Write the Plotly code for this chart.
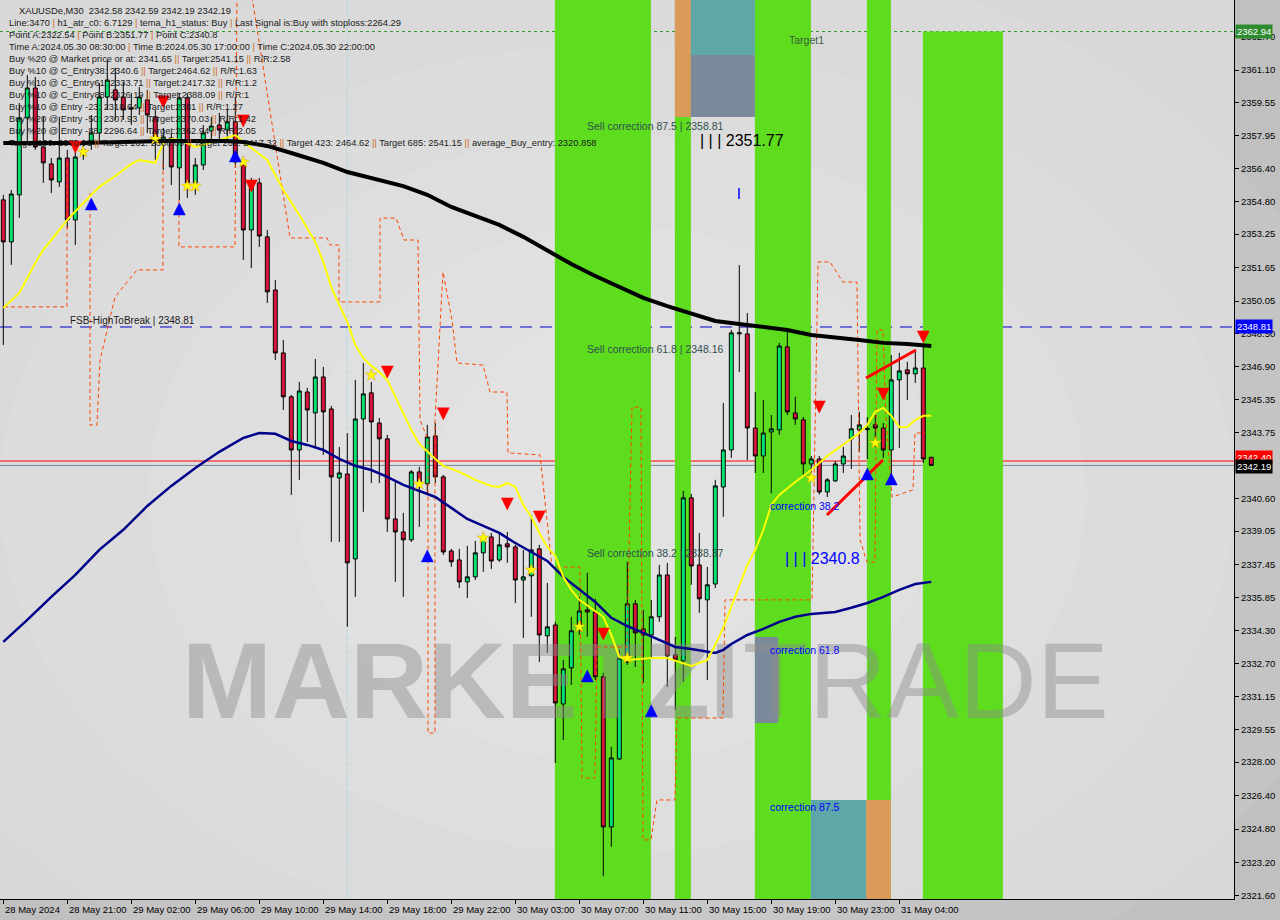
import plotly.graph_objects as go

# ---------------- data ----------------
tick_bars = [0, 8, 16, 24, 32, 40, 48, 56, 64, 72, 80, 88, 96, 104, 112]
tick_labels = ["28 May 2024", "28 May 21:00", "29 May 02:00", "29 May 06:00", "29 May 10:00",
               "29 May 14:00", "29 May 18:00", "29 May 22:00", "30 May 03:00", "30 May 07:00",
               "30 May 11:00", "30 May 15:00", "30 May 19:00", "30 May 23:00", "31 May 04:00"]
price_ticks = [2362.70, 2361.10, 2359.55, 2357.95, 2356.40, 2354.80, 2353.25, 2351.65, 2350.05,
               2348.50, 2346.90, 2345.35, 2343.75, 2340.60, 2339.05, 2337.45, 2335.85, 2334.30,
               2332.70, 2331.15, 2329.55, 2328.00, 2326.40, 2324.80, 2323.20, 2321.60]

opens = [2354.89, 2352.88, 2355.13, 2358.81, 2360.24, 2357.42, 2356.61, 2355.75, 2356.89, 2353.93,
         2357.04, 2357.71, 2358.09, 2359.81, 2360.15, 2359.81, 2359.29, 2359.29, 2359.67, 2358.86,
         2357.61, 2357.85, 2356.42, 2359.76, 2355.70, 2356.56, 2358.19, 2358.47, 2358.23, 2358.62,
         2356.56, 2353.45, 2355.70, 2353.12, 2350.58, 2347.57, 2345.47, 2342.93, 2345.70, 2344.70,
         2346.42, 2344.89, 2341.59, 2341.78, 2337.72, 2344.41, 2345.66, 2344.22, 2343.46, 2339.63,
         2339.01, 2338.63, 2341.88, 2341.31, 2343.60, 2341.64, 2338.10, 2337.67, 2336.62, 2336.86,
         2338.01, 2338.77, 2337.67, 2338.44, 2338.29, 2336.71, 2336.91, 2338.20, 2334.04, 2334.56,
         2330.78, 2332.51, 2334.56, 2335.28, 2335.18, 2332.08, 2324.90, 2328.15, 2332.79, 2335.57,
         2334.37, 2334.08, 2334.95, 2336.95, 2333.13, 2332.84, 2340.64, 2337.43, 2335.76, 2336.52,
         2341.16, 2342.93, 2348.48, 2348.48, 2343.98, 2342.64, 2343.79, 2343.89, 2347.86, 2344.70,
         2344.37, 2342.26, 2342.50, 2340.92, 2341.45, 2342.26, 2343.46, 2343.89, 2343.90, 2344.13,
         2343.98, 2342.93, 2346.28, 2346.76, 2346.57, 2346.85, 2342.58]
highs = [2355.13, 2355.36, 2359.52, 2360.86, 2360.77, 2358.86, 2356.89, 2358.86, 2357.28, 2357.76,
         2357.76, 2358.95, 2360.48, 2361.58, 2361.20, 2360.53, 2360.00, 2360.29, 2360.15, 2359.19,
         2358.33, 2358.09, 2360.00, 2360.00, 2356.89, 2358.47, 2358.86, 2359.05, 2359.19, 2359.81,
         2356.80, 2355.94, 2355.94, 2353.45, 2351.06, 2348.19, 2345.56, 2346.18, 2345.90, 2347.28,
         2346.90, 2345.04, 2343.07, 2343.74, 2346.28, 2347.09, 2346.18, 2344.46, 2343.65, 2341.40,
         2339.92, 2341.97, 2342.12, 2344.13, 2344.22, 2341.74, 2338.20, 2338.20, 2338.34, 2338.58,
         2338.96, 2338.96, 2339.01, 2339.01, 2338.39, 2338.15, 2339.82, 2338.39, 2336.57, 2334.71,
         2332.89, 2334.95, 2335.90, 2337.05, 2335.81, 2332.27, 2328.73, 2333.37, 2337.58, 2335.76,
         2335.28, 2335.76, 2337.43, 2337.53, 2333.99, 2340.97, 2340.83, 2338.96, 2337.34, 2341.50,
         2345.18, 2348.67, 2351.77, 2349.48, 2345.70, 2345.32, 2344.60, 2348.05, 2348.77, 2345.47,
         2344.51, 2342.64, 2342.64, 2341.59, 2342.40, 2343.07, 2344.60, 2344.75, 2344.50, 2344.60,
         2344.22, 2347.47, 2347.57, 2347.14, 2347.62, 2347.95, 2342.59]
lows = [2347.95, 2351.78, 2354.03, 2357.61, 2357.28, 2355.70, 2355.22, 2355.51, 2353.55, 2352.73,
        2356.80, 2357.28, 2357.61, 2359.19, 2358.71, 2358.71, 2358.47, 2358.95, 2358.09, 2356.80,
        2356.32, 2355.60, 2354.89, 2354.98, 2355.13, 2356.32, 2357.76, 2357.76, 2357.76, 2356.42,
        2352.02, 2351.63, 2352.64, 2349.96, 2347.23, 2344.84, 2340.78, 2341.50, 2343.31, 2343.03,
        2342.69, 2338.53, 2338.53, 2334.47, 2335.90, 2339.97, 2341.35, 2341.35, 2339.01, 2336.62,
        2335.90, 2338.53, 2339.25, 2340.87, 2341.35, 2337.91, 2337.34, 2336.33, 2335.85, 2336.71,
        2337.10, 2337.24, 2337.58, 2337.53, 2335.61, 2333.94, 2334.95, 2332.79, 2333.22, 2327.96,
        2329.06, 2331.69, 2334.08, 2333.99, 2331.93, 2322.54, 2323.95, 2328.11, 2332.65, 2332.55,
        2331.79, 2333.03, 2334.71, 2331.60, 2330.50, 2331.84, 2336.48, 2335.14, 2331.93, 2336.33,
        2339.73, 2342.55, 2346.66, 2342.45, 2341.83, 2341.83, 2340.85, 2343.65, 2344.60, 2344.13,
        2341.74, 2341.50, 2340.80, 2340.68, 2341.40, 2341.83, 2342.02, 2342.84, 2342.50, 2343.07,
        2342.55, 2341.64, 2343.03, 2345.32, 2346.13, 2342.31, 2342.19]
closes = [2352.88, 2355.17, 2358.81, 2360.24, 2357.42, 2356.66, 2355.84, 2356.89, 2353.93, 2356.94,
          2357.28, 2358.09, 2359.81, 2360.62, 2359.67, 2359.19, 2359.24, 2359.81, 2358.95, 2357.85,
          2357.90, 2356.46, 2359.76, 2355.70, 2356.56, 2358.09, 2358.42, 2358.23, 2358.62, 2356.70,
          2353.45, 2355.70, 2353.16, 2350.49, 2347.57, 2345.47, 2342.93, 2345.75, 2344.84, 2346.42,
          2344.75, 2341.64, 2341.83, 2337.53, 2344.41, 2345.61, 2344.27, 2343.46, 2339.63, 2339.01,
          2338.63, 2341.88, 2341.35, 2343.55, 2341.64, 2338.05, 2337.58, 2336.62, 2336.86, 2338.01,
          2338.72, 2337.62, 2338.39, 2338.29, 2336.71, 2336.86, 2338.15, 2334.08, 2334.47, 2330.83,
          2332.46, 2334.28, 2335.23, 2335.18, 2332.08, 2324.90, 2328.20, 2332.98, 2335.57, 2334.18,
          2334.08, 2334.95, 2336.95, 2333.08, 2332.89, 2340.64, 2337.38, 2335.81, 2336.48, 2341.21,
          2342.93, 2348.53, 2348.53, 2343.98, 2342.64, 2343.74, 2343.94, 2347.90, 2344.75, 2344.41,
          2342.26, 2342.50, 2340.92, 2341.50, 2342.26, 2342.64, 2343.94, 2344.13, 2343.95, 2343.98,
          2342.93, 2346.28, 2346.71, 2346.57, 2346.85, 2342.50, 2342.19]

# slow black MA (sampled at bar indices)
ma200_bar = [0, 10, 20, 28, 30, 33, 36, 40, 43, 47, 50, 53, 56, 59, 62, 65, 68, 71, 74, 77, 80,
             83, 86, 89, 92, 95, 98, 101, 104, 107, 110, 113, 116]
ma200_val = [2357.61, 2357.61, 2357.71, 2357.71, 2357.66, 2357.47, 2357.13, 2356.66, 2356.22,
             2355.84, 2355.55, 2355.13, 2354.55, 2354.12, 2353.69, 2353.12, 2352.45, 2351.82,
             2351.25, 2350.72, 2350.20, 2349.81, 2349.43, 2349.10, 2348.95, 2348.81, 2348.67,
             2348.43, 2348.33, 2348.19, 2348.05, 2348.00, 2347.90]

# yellow fast MA
fast_bar = [0, 2, 4, 5, 6, 8, 10, 12, 14, 16, 17, 19, 20, 21, 22, 24, 25, 27, 29, 30, 31, 33, 34,
            35, 37, 38, 39, 40, 41, 42, 43, 44, 45, 46, 47, 48, 49, 50, 51, 52, 53, 54, 55, 57, 59,
            61, 62, 63, 64, 65, 66, 67, 68, 69, 70, 71, 72, 74, 75, 76, 77, 78, 81, 83, 85, 86, 88,
            89, 90, 91, 92, 93, 94, 95, 96, 97, 99, 101, 103, 105, 107, 108, 109, 110, 111, 112,
            113, 114, 115, 116]
fast_val = [2349.72, 2350.44, 2351.87, 2352.50, 2352.97, 2353.93, 2354.74, 2355.51, 2356.03, 2356.61,
            2356.80, 2356.66, 2357.61, 2357.80, 2357.76, 2357.42, 2357.52, 2357.76, 2357.99, 2357.66,
            2357.37, 2356.80, 2356.08, 2355.36, 2354.17, 2353.55, 2352.88, 2351.92, 2350.72, 2349.86,
            2349.05, 2347.95, 2347.33, 2346.95, 2346.66, 2346.28, 2345.47, 2344.65, 2343.89, 2343.22,
            2342.84, 2342.50, 2342.17, 2341.88, 2341.50, 2341.21, 2341.16, 2341.35, 2341.16, 2340.30,
            2339.73, 2338.96, 2338.29, 2337.86, 2336.86, 2336.24, 2335.76, 2335.23, 2334.95, 2334.08,
            2333.03, 2332.89, 2332.98, 2332.98, 2332.74, 2332.60, 2332.89, 2333.61, 2334.42, 2335.42,
            2336.48, 2337.43, 2338.15, 2339.10, 2340.30, 2340.78, 2341.40, 2341.97, 2342.64, 2343.17,
            2343.74, 2344.13, 2344.75, 2344.94, 2344.56, 2344.03, 2344.03, 2344.37, 2344.56, 2344.56]

# navy MA
mid_bar = [0, 3, 6, 9, 12, 15, 18, 21, 24, 27, 30, 32, 34, 36, 38, 40, 42, 44, 46, 48, 50, 52, 54,
           56, 58, 60, 62, 64, 66, 68, 70, 72, 74, 76, 78, 80, 82, 84, 86, 88, 89, 90, 91, 93, 95,
           97, 99, 101, 104, 106, 108, 110, 112, 114, 116]
mid_val = [2333.75, 2334.80, 2335.90, 2336.95, 2338.15, 2339.11, 2340.25, 2341.21, 2342.07, 2342.84,
           2343.50, 2343.74, 2343.70, 2343.36, 2343.17, 2342.93, 2342.50, 2342.17, 2341.97, 2341.64,
           2341.26, 2340.97, 2340.68, 2340.16, 2339.63, 2339.30, 2338.96, 2338.48, 2338.05, 2337.62,
           2336.86, 2336.24, 2335.66, 2334.90, 2334.51, 2334.18, 2333.85, 2333.51, 2333.41, 2333.27,
           2333.22, 2333.37, 2333.65, 2334.08, 2334.37, 2334.71, 2334.95, 2335.09, 2335.18, 2335.38,
           2335.61, 2335.90, 2336.24, 2336.52, 2336.62]

# orange dashed step channel (None = break)
chan_bar = [0.09, 7.96, 7.96, None,
            10.84, 10.84, 11.71, 12.09, 13.96, 16.71, 19.96, 19.96, None,
            21.96, 21.96, 28.96, 29.21, None,
            31.09, 32.34, 33.46, 35.84, 40.46, 40.84, 41.96, 41.96, 47.09, 47.09, 49.09, 50.09,
            51.84, 52.09, 53.09, 53.09, 53.96, 53.96, 54.96, 56.09, 56.71, 59.96, 60.84, 62.96,
            63.09, 67.09, 68.59, 72.09, 72.34, 73.96, 74.21, 77.96, 78.59, 79.71, 79.96, 80.96,
            81.71, 83.96, 84.21, 89.96, 90.21, 101.09, 101.84, 103.34, 104.96, 106.71, 107.09,
            107.96, 108.96, 109.21, 109.96, 110.34, 111.09, 113.71, 113.96, 115.21]
chan_val = [2349.77, 2349.77, 2356.80, None,
            2355.22, 2344.12, 2344.12, 2347.23, 2350.24, 2351.54, 2351.54, 2356.80, None,
            2354.89, 2352.64, 2352.64, 2364.60, None,
            2364.60, 2361.58, 2358.81, 2353.07, 2353.07, 2352.73, 2352.73, 2350.01, 2350.01, 2354.02,
            2354.02, 2352.97, 2352.97, 2344.36, 2343.41, 2329.39, 2329.39, 2344.36, 2351.44, 2349.15,
            2347.09, 2346.99, 2345.70, 2345.70, 2342.79, 2342.69, 2337.33, 2337.33, 2327.24, 2327.24,
            2333.51, 2333.51, 2344.98, 2344.98, 2324.28, 2324.28, 2326.19, 2326.19, 2330.11, 2330.11,
            2335.76, 2335.76, 2351.92, 2351.92, 2350.96, 2350.96, 2338.63, 2337.57, 2337.57, 2348.67,
            2348.67, 2344.36, 2340.68, 2341.02, 2343.74, 2343.74]

sell_bar = [9, 20, 30, 31, 48, 55, 63, 67, 75, 102, 110, 115]
sell_val = [2357.13, 2359.29, 2358.38, 2355.27, 2346.37, 2344.37, 2340.06, 2339.44, 2333.84,
            2344.70, 2345.32, 2348.05]
buy_bar = [11, 22, 29, 53, 73, 81, 108, 111]
buy_val = [2354.98, 2354.74, 2357.28, 2338.15, 2332.41, 2330.74, 2342.07, 2341.83]
star_bar = [10, 19, 23, 24, 30, 46, 52, 60, 66, 72, 78, 101, 109]
star_val = [2357.18, 2357.80, 2355.55, 2355.55, 2356.70, 2346.51, 2341.30, 2338.72, 2337.19,
            2334.47, 2332.98, 2341.59, 2343.26]

trend_low_bar = [102.96, 109.96]
trend_low_val = [2339.82, 2342.45]
trend_high_bar = [107.84, 114.09]
trend_high_val = [2346.37, 2347.71]

green_zone_start = [69, 84, 94, 108, 115]
green_zone_end = [81, 86, 101, 111, 125]

target1 = 2362.94
fsb_high = 2348.81
ask_line = 2342.40
bid_line = 2342.19
point_b = 2351.77
point_c = 2340.8
corr_prices = {"87.5": 2358.81, "61.8": 2348.16, "38.2": 2338.37}

info_lines = [
    "Line:3470 | h1_atr_c0: 6.7129 | tema_h1_status: Buy | Last Signal is:Buy with stoploss:2264.29",
    "Point A:2322.54 | Point B:2351.77 | Point C:2340.8",
    "Time A:2024.05.30 08:30:00 | Time B:2024.05.30 17:00:00 | Time C:2024.05.30 22:00:00",
    "Buy %20 @ Market price or at: 2341.65 || Target:2541.15 || R/R:2.58",
    "Buy %10 @ C_Entry38: 2340.6 || Target:2464.62 || R/R:1.63",
    "Buy %10 @ C_Entry61: 2333.71 || Target:2417.32 || R/R:1.2",
    "Buy %10 @ C_Entry88: 2326.19 || Target:2388.09 || R/R:1",
    "Buy %10 @ Entry -23: 2318.64 || Target:2381 || R/R:1.27",
    "Buy %20 @ Entry -50: 2307.93 || Target:2370.03 || R/R:1.42",
    "Buy %20 @ Entry -88: 2296.64 || Target:2362.94 || R/R:2.05",
    "Target 100: 2370.03 || Target 161: 2388.09 || Target 261: 2417.32 || Target 423: 2464.62 || Target 685: 2541.15 || average_Buy_entry: 2320.858",
]
title_line = "XAUUSDe,M30  2342.58 2342.59 2342.19 2342.19"

# ---------------- layout geometry ----------------
W, H = 1280, 920
ML, MR, MT, MB = 0, 46, 0, 21
PW, PH = W - ML - MR, H - MT - MB
BAR_PX = 8.0
X0 = -0.4125
X1 = X0 + PW / BAR_PX
Y1 = 2364.448
Y0 = Y1 - PH / 20.91

FONT = "Liberation Sans"
GREEN = "#5EDD1E"
INFO_SIZE = 9.3

def px(xp):
    return xp / PW

def py(yp):
    return 1 - yp / PH

fig = go.Figure()

# watermark (below candles)
fig.add_trace(go.Scatter(x=[57.2], y=[2331.42], mode="text", text=["<b>MARKETZI</b>"],
                         textfont=dict(size=108, color="rgba(140,140,140,0.45)", family=FONT),
                         hoverinfo="skip", showlegend=False))
fig.add_trace(go.Scatter(x=[115.3], y=[2331.42], mode="text", text=["TRADE"],
                         textfont=dict(size=108, color="rgba(140,140,140,0.45)", family=FONT),
                         hoverinfo="skip", showlegend=False))

bars = list(range(len(opens)))
fig.add_trace(go.Candlestick(
    x=bars, open=opens, high=highs, low=lows, close=closes,
    increasing=dict(line=dict(color="black", width=1), fillcolor="#00E676"),
    decreasing=dict(line=dict(color="black", width=1), fillcolor="#DC143C"),
    whiskerwidth=0, hoverinfo="skip", showlegend=False))

fig.add_trace(go.Scatter(x=chan_bar, y=chan_val, mode="lines", connectgaps=False,
                         line=dict(color="#FF4500", width=1, dash="4px,3px"),
                         hoverinfo="skip", showlegend=False))
fig.add_trace(go.Scatter(x=mid_bar, y=mid_val, mode="lines",
                         line=dict(color="#00008B", width=2.5), hoverinfo="skip", showlegend=False))
fig.add_trace(go.Scatter(x=fast_bar, y=fast_val, mode="lines",
                         line=dict(color="#FFFF00", width=2), hoverinfo="skip", showlegend=False))
fig.add_trace(go.Scatter(x=ma200_bar, y=ma200_val, mode="lines",
                         line=dict(color="#000000", width=4), hoverinfo="skip", showlegend=False))
fig.add_trace(go.Scatter(x=trend_low_bar, y=trend_low_val, mode="lines",
                         line=dict(color="#FF0000", width=3), hoverinfo="skip", showlegend=False))
fig.add_trace(go.Scatter(x=trend_high_bar, y=trend_high_val, mode="lines",
                         line=dict(color="#FF0000", width=3), hoverinfo="skip", showlegend=False))
fig.add_trace(go.Scatter(x=star_bar, y=star_val, mode="markers",
                         marker=dict(symbol="star", size=9, color="#FFFF00",
                                     line=dict(color="#E0A000", width=0.5)),
                         hoverinfo="skip", showlegend=False))
fig.add_trace(go.Scatter(x=sell_bar, y=sell_val, mode="markers",
                         marker=dict(symbol="arrow-down", size=12, color="#FF0000",
                                     line=dict(color="#FF0000", width=0.5)),
                         hoverinfo="skip", showlegend=False))
fig.add_trace(go.Scatter(x=buy_bar, y=buy_val, mode="markers",
                         marker=dict(symbol="arrow-up", size=12, color="#0000FF",
                                     line=dict(color="#0000FF", width=0.5)),
                         hoverinfo="skip", showlegend=False))

# ---------------- shapes ----------------
shapes = []
# soft radial lightening of the background
for i, (rx, ry) in enumerate([(0.62, 0.62), (0.5, 0.5), (0.38, 0.4), (0.26, 0.3), (0.15, 0.2)]):
    cx, cy = 0.5, 0.45
    shapes.append(dict(type="circle", xref="paper", yref="paper",
                       x0=cx - rx, x1=cx + rx, y0=cy - ry, y1=cy + ry,
                       fillcolor="rgba(255,255,255,0.07)", line_width=0, layer="below"))
for i, (s, e) in enumerate(zip(green_zone_start, green_zone_end)):
    y_top = target1 if i == len(green_zone_start) - 1 else Y1 + 1
    shapes.append(dict(type="rect", xref="x", yref="y", x0=s - 0.05, x1=e - 0.05,
                       y0=Y0 - 1, y1=y_top, fillcolor=GREEN, line_width=0, layer="below"))
shapes += [
    dict(type="rect", xref="x", yref="y", x0=83.95, x1=85.95, y0=2358.85, y1=Y1 + 1,
         fillcolor="#D99A5B", line_width=0, layer="below"),
    dict(type="rect", xref="x", yref="y", x0=85.95, x1=93.95, y0=2361.82, y1=Y1 + 1,
         fillcolor="#5FA6A8", line_width=0, layer="below"),
    dict(type="rect", xref="x", yref="y", x0=85.95, x1=93.95, y0=2358.85, y1=2361.82,
         fillcolor="#7A8A9A", line_width=0, layer="below"),
    dict(type="rect", xref="x", yref="y", x0=100.95, x1=107.85, y0=Y0 - 1, y1=2326.19,
         fillcolor="#5FA6A8", line_width=0, layer="below"),
    dict(type="rect", xref="x", yref="y", x0=107.85, x1=110.95, y0=Y0 - 1, y1=2326.19,
         fillcolor="#D99A5B", line_width=0, layer="below"),
    dict(type="rect", xref="x", yref="y", x0=93.95, x1=96.85, y0=2329.87, y1=2333.99,
         fillcolor="#7A8A9A", line_width=0, layer="below"),
]
shapes += [
    dict(type="line", xref="x", yref="paper", x0=42.96, x1=42.96, y0=0, y1=1,
         line=dict(color="#A8D8E8", width=1, dash="4px,3px"), layer="below"),
    dict(type="line", xref="x", yref="paper", x0=74.96, x1=74.96, y0=0, y1=1,
         line=dict(color="#F4F4F4", width=1, dash="4px,3px"), layer="below"),
]
shapes += [
    dict(type="line", xref="paper", yref="y", x0=0, x1=1, y0=target1, y1=target1,
         line=dict(color="#2E9B2E", width=1, dash="3px,3px"), layer="below"),
    dict(type="line", xref="paper", yref="y", x0=0, x1=1, y0=fsb_high, y1=fsb_high,
         line=dict(color="#0000CD", width=1, dash="12px,8px"), layer="below"),
    dict(type="line", xref="paper", yref="y", x0=0, x1=1, y0=ask_line, y1=ask_line,
         line=dict(color="#FF0000", width=1), layer="below"),
    dict(type="line", xref="paper", yref="y", x0=0, x1=1, y0=bid_line, y1=bid_line,
         line=dict(color="#778899", width=1), layer="below"),
    dict(type="line", xref="x", yref="y", x0=91.96, x1=91.96, y0=2354.93, y1=2355.46,
         line=dict(color="#0000FF", width=1.5)),
]

# ---------------- annotations ----------------
ann = []
SEP = "<span style='color:#D2691E'>|</span>"
ann.append(dict(xref="paper", yref="paper", x=px(17), y=py(10.7), xanchor="left", yanchor="middle",
                text=title_line, showarrow=False,
                font=dict(family=FONT, size=INFO_SIZE, color="#1A1A1A")))
for i, line in enumerate(info_lines):
    ann.append(dict(xref="paper", yref="paper", x=px(7), y=py(23.3 + 12 * i),
                    xanchor="left", yanchor="middle", text=line.replace("|", SEP),
                    showarrow=False, font=dict(family=FONT, size=INFO_SIZE, color="#1A1A1A")))

for lvl, pr in corr_prices.items():
    ann.append(dict(xref="x", yref="y", x=72.7, y=pr, xanchor="left", yanchor="top",
                    text=f"Sell correction {lvl} | {pr:.2f}", showarrow=False,
                    font=dict(family=FONT, size=10.5, color="#2F4F4F")))
ann.append(dict(xref="x", yref="y", x=86.85, y=2357.75, xanchor="left", yanchor="middle",
                text=f"| | | {point_b:.2f}", showarrow=False,
                font=dict(family=FONT, size=16, color="#000000")))
ann.append(dict(xref="x", yref="y", x=97.46, y=2337.72, xanchor="left", yanchor="middle",
                text=f"| | | {point_c}", showarrow=False,
                font=dict(family=FONT, size=16, color="#0000FF")))
for lbl, pr in [("correction 38.2", 2340.25), ("correction 61.8", 2333.36), ("correction 87.5", 2325.85)]:
    ann.append(dict(xref="x", yref="y", x=95.59, y=pr, xanchor="left", yanchor="middle",
                    text=lbl, showarrow=False, font=dict(family=FONT, size=10.5, color="#0000FF")))
ann.append(dict(xref="x", yref="y", x=97.96, y=2362.53, xanchor="left", yanchor="middle",
                text="Target1", showarrow=False, font=dict(family=FONT, size=10.5, color="#3B5E3B")))
ann.append(dict(xref="x", yref="y", x=8.09, y=fsb_high, xanchor="left", yanchor="bottom", yshift=-1,
                text=f"FSB-HighToBreak | {fsb_high}", showarrow=False,
                font=dict(family=FONT, size=10, color="#202020")))

for b, t in zip(tick_bars, tick_labels):
    ann.append(dict(xref="x", yref="paper", x=b, y=0, xanchor="left", yanchor="top",
                    xshift=0, yshift=-3, text=t, showarrow=False,
                    font=dict(family=FONT, size=9.5, color="#000000")))

for pr, bg, ys in [(target1, "#2E8B2E", 0), (fsb_high, "#0000FF", 0),
                   (ask_line, "#FF0000", 4), (bid_line, "#000000", -1)]:
    ann.append(dict(xref="paper", yref="y", x=1, y=pr, xanchor="left", yanchor="middle",
                    xshift=1, yshift=ys, text=f"{pr:.2f}", showarrow=False, bgcolor=bg,
                    borderpad=1, font=dict(family=FONT, size=9.5, color="#FFFFFF")))

fig.update_layout(
    width=W, height=H, margin=dict(l=ML, r=MR, t=MT, b=MB),
    paper_bgcolor="#C0C0C0", plot_bgcolor="#D8D8D8", showlegend=False,
    shapes=shapes, annotations=ann,
    xaxis=dict(range=[X0, X1], showgrid=False, zeroline=False, showline=True,
               linecolor="black", linewidth=1, ticks="outside", ticklen=4, tickcolor="black",
               tickvals=tick_bars, showticklabels=False, rangeslider=dict(visible=False),
               fixedrange=True),
    yaxis=dict(range=[Y0, Y1], side="right", showgrid=False, zeroline=False, showline=True,
               linecolor="black", linewidth=1, ticks="outside", ticklen=4, tickcolor="black",
               tickvals=price_ticks, ticktext=[f"{v:.2f}" for v in price_ticks],
               tickfont=dict(family=FONT, size=9.5, color="#000000"), fixedrange=True),
)

fig.write_html("out.html", config={"displayModeBar": False},
               post_script="document.body.style.margin='0px';document.body.style.overflow='hidden';")
